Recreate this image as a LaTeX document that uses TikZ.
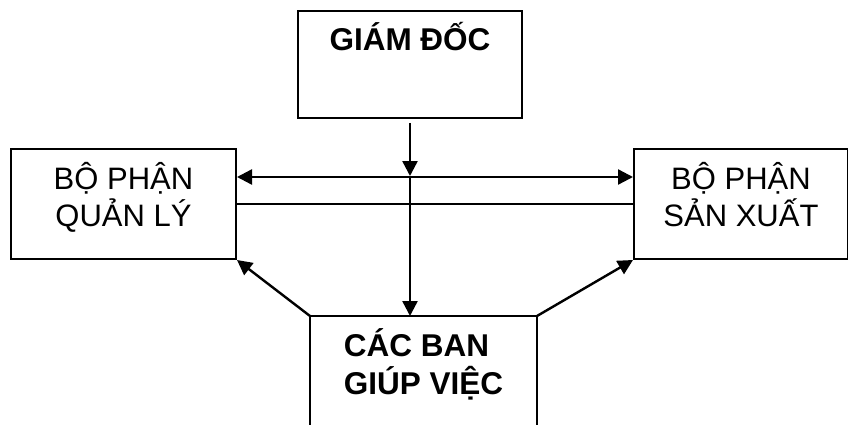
\documentclass[tikz,border=0pt]{standalone}
\usepackage{fontspec}
\setmainfont{Liberation Sans}
\usetikzlibrary{arrows.meta}
\usetikzlibrary{positioning}

\begin{document}
\begin{tikzpicture}[x=1pt,y=-1pt,every node/.style = {align=center},
>={Triangle[length=15pt,width=15pt]},
box/.style={draw, line width=2pt, inner sep=0pt, font=\fontsize{31}{37}\selectfont},
bold box/.style={box, font=\fontsize{31.5}{38}\selectfont\bfseries},
link/.style={line width=2.4pt}]
\useasboundingbox (0,0) rectangle (848,425);
\node[bold box, anchor=north, minimum width=224, text height=40, text depth=67] (gd) at (410,10) {GIÁM ĐỐC};
\node[box, anchor=north west, minimum width=225, text height=77, text depth=33] (ql) at (10,148) {BỘ PHẬN\\ QUẢN LÝ};
\node[box, anchor=north west, minimum width=214, text height=77, text depth=33] (sx) at (633,148) {BỘ PHẬN\\SẢN XUẤT};
\node[bold box, draw=none, align=left, anchor=north west, minimum width=225, text height=77, text depth=82] (cb) at (310,316) {CÁC BAN\\GIÚP VIỆC};
% open at the bottom
\draw[line width=2pt] (cb.south west) -- (cb.north west) -- (cb.north east) -- (cb.south east);
\coordinate (hub) at (gd.south |- 0,176);
\draw [link, ->, shorten <=4pt] (gd.south) -- (hub);
\draw [link, ->] (hub) -- (gd.south |- cb.north);
\draw [link, <->] ([yshift=27pt]ql.east) -- ([yshift=27pt]sx.west);
\draw [line width=1.5pt] (ql.east) -- (sx.west);
\draw [link, ->] (cb.north west) -- (ql.south east);
\draw [link, ->] (cb.north east) -- (sx.south west);
\end{tikzpicture}
\end{document}
